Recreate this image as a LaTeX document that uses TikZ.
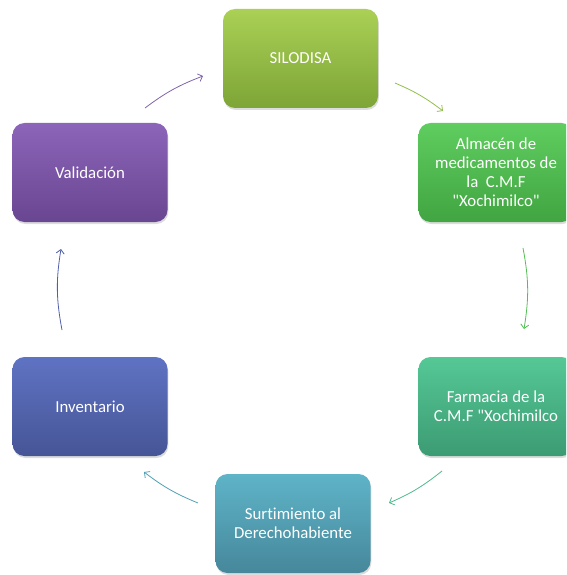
\documentclass[tikz,border=0pt]{standalone}
\usepackage{fontspec}
\setmainfont{Carlito}[Ligatures={TeXOff,NoCommon}]
\usetikzlibrary{arrows.meta,shadows}
\definecolor{silT}{RGB}{170,208,85}\definecolor{silB}{RGB}{125,165,55}
\definecolor{almT}{RGB}{95,205,95}\definecolor{almB}{RGB}{65,165,65}
\definecolor{farT}{RGB}{85,200,150}\definecolor{farB}{RGB}{60,155,115}
\definecolor{surT}{RGB}{95,180,200}\definecolor{surB}{RGB}{70,135,155}
\definecolor{invT}{RGB}{95,115,195}\definecolor{invB}{RGB}{70,85,150}
\definecolor{valT}{RGB}{140,100,185}\definecolor{valB}{RGB}{105,70,145}
\definecolor{aVal}{RGB}{128,100,170}
\definecolor{aSil}{RGB}{145,190,75}
\definecolor{aAlm}{RGB}{85,190,85}
\definecolor{aFar}{RGB}{80,185,140}
\definecolor{aSur}{RGB}{80,160,180}
\definecolor{aInv}{RGB}{80,95,170}
\begin{document}
\begin{tikzpicture}[x=1pt,y=-1pt,
  box/.style n args={2}{rectangle, rounded corners=12pt, minimum width=155pt,
    minimum height=99pt, inner sep=0pt, align=center, text=white,
    font=\fontsize{16.8}{19}\selectfont, top color=#1, bottom color=#2,
    drop shadow={shadow xshift=0.8pt, shadow yshift=-2pt, opacity=0.28}},
  conn/.style={-{Straight Barb[length=4pt,width=8pt]}, line width=0.8pt}]
\useasboundingbox (0,0) rectangle (566,575);
\clip (0,0) rectangle (566,575);

\node[box={silT}{silB}] (sil) at (300.5,58.5) {SILODISA};
\node[box={almT}{almB}] (alm) at (496,172.5) {Almacén de\\medicamentos de\\la \ C.M.F\\"Xochimilco"};
\node[box={farT}{farB}] (far) at (496,406.5) {Farmacia de la\\C.M.F "Xochimilco};
\node[box={surT}{surB}] (sur) at (293,523.5) {Surtimiento al\\Derechohabiente};
\node[box={invT}{invB}] (inv) at (90,406.5) {Inventario};
\node[box={valT}{valB}] (val) at (90,172.5) {Validación};

\coordinate (a1s) at (145,108); \coordinate (a1e) at (203,76);
\coordinate (a2s) at (395,83);  \coordinate (a2e) at (443,111);
\coordinate (a3s) at (523,248); \coordinate (a3e) at (524,329);
\coordinate (a4s) at (442,471); \coordinate (a4e) at (389,503);
\coordinate (a5s) at (198,503); \coordinate (a5e) at (144,472);
\coordinate (a6s) at (62,330);  \coordinate (a6e) at (61,249);

\draw[conn, aVal] (a1s) to[bend left=8] (a1e);
\draw[conn, aSil] (a2s) to[bend left=7] (a2e);
\draw[conn, aAlm] (a3s) to[bend left=10] (a3e);
\draw[conn, aFar] (a4s) to[bend left=7.5] (a4e);
\draw[conn, aSur] (a5s) to[bend left=7.5] (a5e);
\draw[conn, aInv] (a6s) to[bend left=10] (a6e);
\end{tikzpicture}
\end{document}
